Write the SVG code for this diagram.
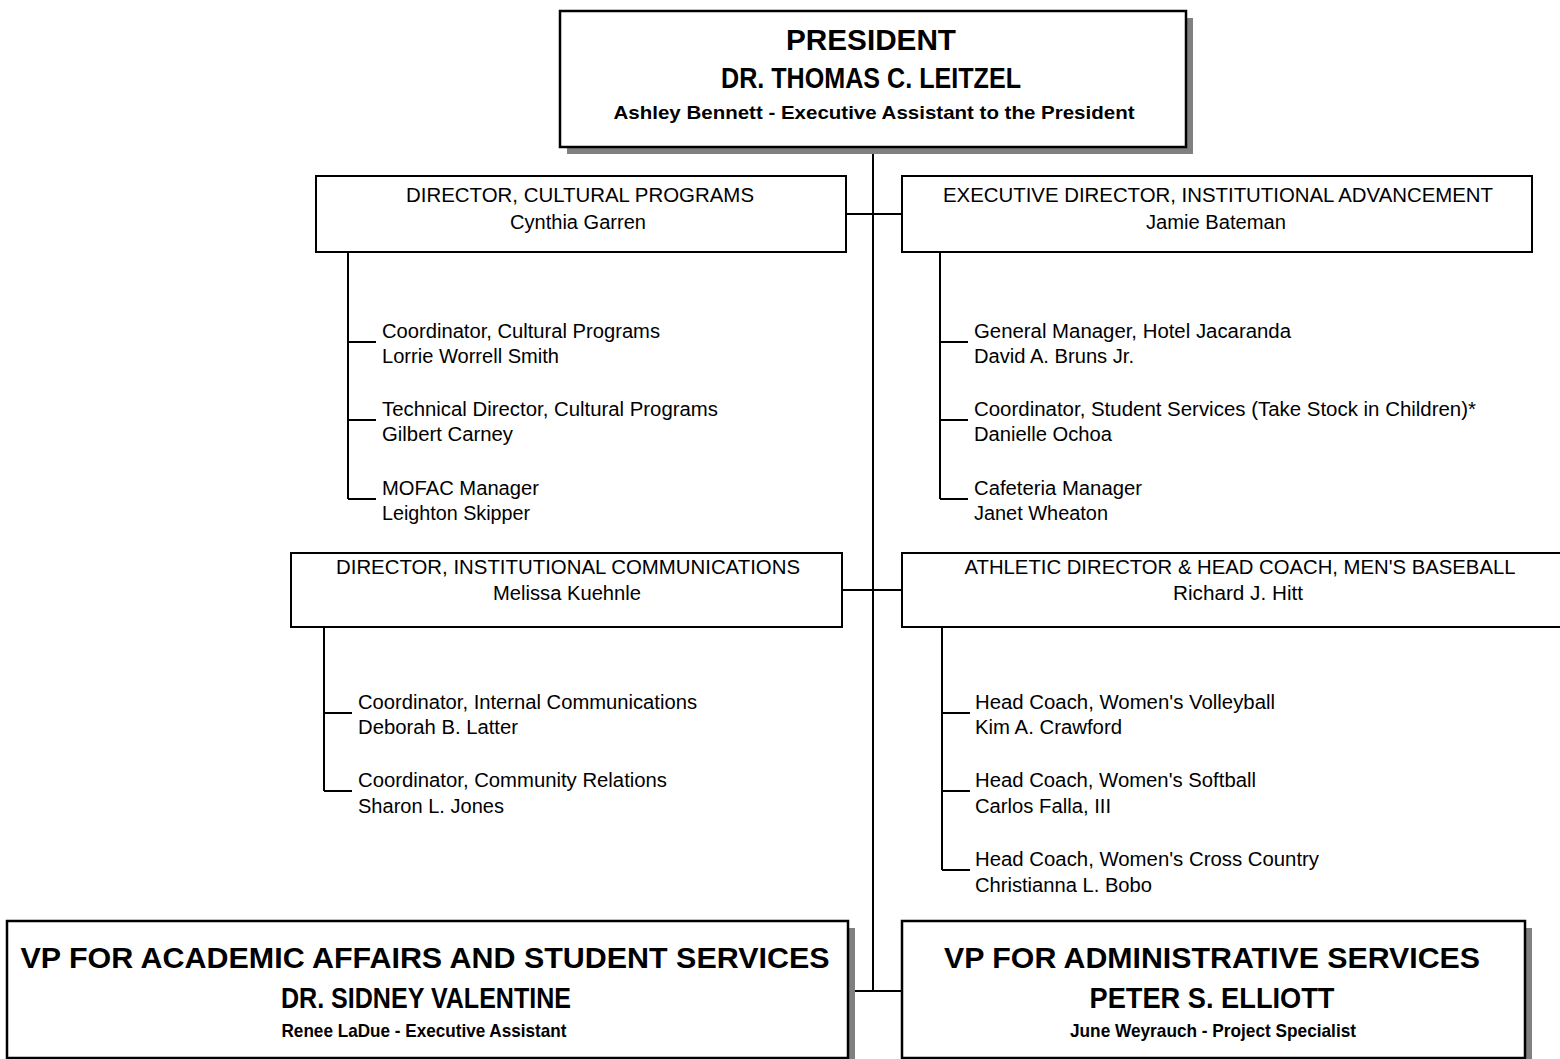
<svg xmlns="http://www.w3.org/2000/svg" width="1560" height="1059" viewBox="0 0 1560 1059">
<style>
.bg{fill:#ffffff}
.box{fill:#ffffff;stroke:#000000;stroke-width:2.5}
.sbox{fill:#ffffff;stroke:#000000;stroke-width:2}
.shadow{fill:#808080}
.ln{stroke:#000000;stroke-width:2;fill:none}
text{font-family:"Liberation Sans",Arial,sans-serif;fill:#000000}
.big{font-size:29px;font-weight:bold;text-anchor:middle}
.bsub{font-size:19px;font-weight:bold;text-anchor:middle}
.t{font-size:20px;text-anchor:middle}
.s{font-size:20px}
</style>
<rect class="bg" x="0" y="0" width="1560" height="1059"/>
<g id="connectors">
<line class="ln" x1="873" y1="147" x2="873" y2="991"/>
<line class="ln" x1="846" y1="214" x2="902" y2="214"/>
<line class="ln" x1="842" y1="590" x2="902" y2="590"/>
<line class="ln" x1="848" y1="991" x2="902" y2="991"/>
<path class="ln" d="M348 252 V499 M348 342 H376 M348 420 H376 M348 499 H376"/>
<path class="ln" d="M940 252 V499 M940 342 H968 M940 420 H968 M940 499 H968"/>
<path class="ln" d="M324 627 V791 M324 713 H352 M324 791 H352"/>
<path class="ln" d="M942 627 V870 M942 713 H970 M942 791 H970 M942 870 H970"/>
</g>
<g id="president">
<rect class="shadow" x="567" y="18" width="626" height="136"/>
<rect class="box" x="560" y="11" width="626" height="136"/>
<text class="big" x="871" y="50" textLength="170" lengthAdjust="spacingAndGlyphs">PRESIDENT</text>
<text class="big" x="871" y="88" textLength="300" lengthAdjust="spacingAndGlyphs">DR. THOMAS C. LEITZEL</text>
<text class="bsub" x="874" y="119" textLength="521" lengthAdjust="spacingAndGlyphs">Ashley Bennett - Executive Assistant to the President</text>
</g>
<g id="dir-cultural">
<rect class="sbox" x="316" y="176" width="530" height="76"/>
<text class="t" x="580" y="202" textLength="348" lengthAdjust="spacingAndGlyphs">DIRECTOR, CULTURAL PROGRAMS</text>
<text class="t" x="578" y="229" textLength="136" lengthAdjust="spacingAndGlyphs">Cynthia Garren</text>
</g>
<g id="exec-dir">
<rect class="sbox" x="902" y="176" width="630" height="76"/>
<text class="t" x="1218" y="202" textLength="550" lengthAdjust="spacingAndGlyphs">EXECUTIVE DIRECTOR, INSTITUTIONAL ADVANCEMENT</text>
<text class="t" x="1216" y="229" textLength="140" lengthAdjust="spacingAndGlyphs">Jamie Bateman</text>
</g>
<g id="coord-cultural">
<text class="s" x="382" y="338" textLength="278" lengthAdjust="spacingAndGlyphs">Coordinator, Cultural Programs</text>
<text class="s" x="382" y="363" textLength="177" lengthAdjust="spacingAndGlyphs">Lorrie Worrell Smith</text>
</g>
<g id="tech-dir">
<text class="s" x="382" y="416" textLength="336" lengthAdjust="spacingAndGlyphs">Technical Director, Cultural Programs</text>
<text class="s" x="382" y="441" textLength="131" lengthAdjust="spacingAndGlyphs">Gilbert Carney</text>
</g>
<g id="mofac">
<text class="s" x="382" y="495" textLength="157" lengthAdjust="spacingAndGlyphs">MOFAC Manager</text>
<text class="s" x="382" y="520" textLength="148" lengthAdjust="spacingAndGlyphs">Leighton Skipper</text>
</g>
<g id="gm-hotel">
<text class="s" x="974" y="338" textLength="317" lengthAdjust="spacingAndGlyphs">General Manager, Hotel Jacaranda</text>
<text class="s" x="974" y="363" textLength="160" lengthAdjust="spacingAndGlyphs">David A. Bruns Jr.</text>
</g>
<g id="coord-student">
<text class="s" x="974" y="416" textLength="502" lengthAdjust="spacingAndGlyphs">Coordinator, Student Services (Take Stock in Children)*</text>
<text class="s" x="974" y="441" textLength="138" lengthAdjust="spacingAndGlyphs">Danielle Ochoa</text>
</g>
<g id="cafeteria">
<text class="s" x="974" y="495" textLength="168" lengthAdjust="spacingAndGlyphs">Cafeteria Manager</text>
<text class="s" x="974" y="520" textLength="134" lengthAdjust="spacingAndGlyphs">Janet Wheaton</text>
</g>
<g id="dir-comm">
<rect class="sbox" x="291" y="553" width="551" height="74"/>
<text class="t" x="568" y="574" textLength="464" lengthAdjust="spacingAndGlyphs">DIRECTOR, INSTITUTIONAL COMMUNICATIONS</text>
<text class="t" x="567" y="600" textLength="148" lengthAdjust="spacingAndGlyphs">Melissa Kuehnle</text>
</g>
<g id="athletic">
<rect class="sbox" x="902" y="553" width="700" height="74"/>
<text class="t" x="1240" y="574" textLength="551" lengthAdjust="spacingAndGlyphs">ATHLETIC DIRECTOR &amp; HEAD COACH, MEN'S BASEBALL</text>
<text class="t" x="1238" y="600" textLength="130" lengthAdjust="spacingAndGlyphs">Richard J. Hitt</text>
</g>
<g id="coord-internal">
<text class="s" x="358" y="709" textLength="339" lengthAdjust="spacingAndGlyphs">Coordinator, Internal Communications</text>
<text class="s" x="358" y="734" textLength="160" lengthAdjust="spacingAndGlyphs">Deborah B. Latter</text>
</g>
<g id="coord-community">
<text class="s" x="358" y="787" textLength="309" lengthAdjust="spacingAndGlyphs">Coordinator, Community Relations</text>
<text class="s" x="358" y="813" textLength="146" lengthAdjust="spacingAndGlyphs">Sharon L. Jones</text>
</g>
<g id="coach-volleyball">
<text class="s" x="975" y="709" textLength="300" lengthAdjust="spacingAndGlyphs">Head Coach, Women's Volleyball</text>
<text class="s" x="975" y="734" textLength="147" lengthAdjust="spacingAndGlyphs">Kim A. Crawford</text>
</g>
<g id="coach-softball">
<text class="s" x="975" y="787" textLength="281" lengthAdjust="spacingAndGlyphs">Head Coach, Women's Softball</text>
<text class="s" x="975" y="813" textLength="136" lengthAdjust="spacingAndGlyphs">Carlos Falla, III</text>
</g>
<g id="coach-crosscountry">
<text class="s" x="975" y="866" textLength="344" lengthAdjust="spacingAndGlyphs">Head Coach, Women's Cross Country</text>
<text class="s" x="975" y="892" textLength="177" lengthAdjust="spacingAndGlyphs">Christianna L. Bobo</text>
</g>
<g id="vp-academic">
<rect class="shadow" x="14" y="928" width="841" height="137"/>
<rect class="box" x="7" y="921" width="841" height="137"/>
<text class="big" x="425" y="968" textLength="809" lengthAdjust="spacingAndGlyphs">VP FOR ACADEMIC AFFAIRS AND STUDENT SERVICES</text>
<text class="big" x="426" y="1008" textLength="290" lengthAdjust="spacingAndGlyphs">DR. SIDNEY VALENTINE</text>
<text class="bsub" x="424" y="1037" textLength="285" lengthAdjust="spacingAndGlyphs">Renee LaDue - Executive Assistant</text>
</g>
<g id="vp-admin">
<rect class="shadow" x="909" y="928" width="623" height="137"/>
<rect class="box" x="902" y="921" width="623" height="137"/>
<text class="big" x="1212" y="968" textLength="536" lengthAdjust="spacingAndGlyphs">VP FOR ADMINISTRATIVE SERVICES</text>
<text class="big" x="1212" y="1008" textLength="245" lengthAdjust="spacingAndGlyphs">PETER S. ELLIOTT</text>
<text class="bsub" x="1213" y="1037" textLength="286" lengthAdjust="spacingAndGlyphs">June Weyrauch - Project Specialist</text>
</g>
</svg>
